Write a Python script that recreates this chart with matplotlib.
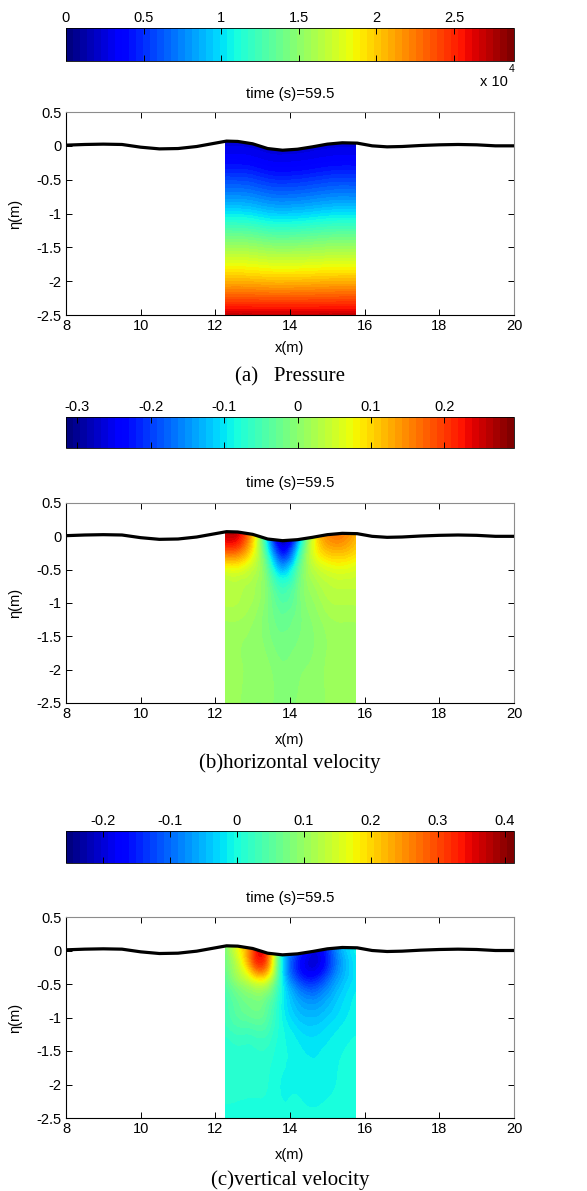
import numpy as np
import matplotlib
matplotlib.use('Agg')
import matplotlib.pyplot as plt
import matplotlib.tri as mtri
from matplotlib.colors import Normalize
from matplotlib.cm import ScalarMappable

plt.rcParams['font.family'] = ['Liberation Sans', 'DejaVu Sans']
plt.rcParams['axes.unicode_minus'] = False

# ---------------- data ----------------
# free-surface elevation (m) along the flume
eta_x = [8, 8.5, 9, 9.5, 10, 10.5, 11, 11.5, 12, 12.3, 12.6, 13.0, 13.4, 13.8,
         14.2, 14.6, 15.0, 15.4, 15.8, 16.2, 16.6, 17.0, 17.5, 18, 18.5, 19, 19.5, 20]
eta = [0.01, 0.02, 0.025, 0.02, -0.02, -0.045, -0.04, -0.01, 0.04, 0.07, 0.065,
       0.03, -0.04, -0.065, -0.05, -0.015, 0.025, 0.045, 0.04, 0.0, -0.015, -0.01,
       0.005, 0.015, 0.02, 0.015, 0.0, 0.0]

# fraction of water column below the surface (0 = surface, 1 = bottom at -2.5 m)
s_levels = [0, 0.1, 0.2, 0.35, 0.5, 0.75, 1.0]

# (a) pressure (Pa) vs depth fraction, uniform in x
p_x = [12.27, 12.6, 13.0, 13.4, 13.8, 14.2, 14.6, 15.0, 15.4, 15.76]
p_profile = [2500, 3500, 5300, 8500, 12600, 19200, 26800]

# (b) horizontal velocity (m/s)
u_x = [12.27, 12.6, 13.0, 13.4, 13.8, 14.2, 14.6, 15.0, 15.4, 15.76]
u_vals = [
    [0.26, 0.25, 0.11, -0.12, -0.28, -0.16, 0.05, 0.15, 0.16, 0.12],
    [0.19, 0.18, 0.08, -0.07, -0.20, -0.09, 0.05, 0.11, 0.12, 0.10],
    [0.08, 0.08, 0.04, -0.03, -0.11, -0.04, 0.03, 0.06, 0.07, 0.06],
    [0.03, 0.03, 0.02, -0.01, -0.045, -0.02, 0.01, 0.03, 0.035, 0.035],
    [0.02, 0.02, 0.01, -0.01, -0.025, -0.015, 0.0, 0.015, 0.02, 0.02],
    [0.01, 0.01, 0.005, 0.0, -0.01, -0.005, 0.0, 0.01, 0.015, 0.015],
    [0.01, 0.01, 0.0, 0.0, -0.005, 0.0, 0.0, 0.01, 0.015, 0.015],
]

# (c) vertical velocity (m/s)
w_x = [12.27, 12.7, 13.0, 13.3, 13.6, 14.0, 14.4, 14.8, 15.2, 15.76]
w_vals = [
    [0.08, 0.19, 0.29, 0.33, 0.12, -0.09, -0.17, -0.18, -0.09, -0.01],
    [0.07, 0.16, 0.26, 0.27, 0.10, -0.10, -0.18, -0.18, -0.10, -0.02],
    [0.05, 0.11, 0.14, 0.13, 0.05, -0.06, -0.12, -0.12, -0.07, -0.02],
    [0.03, 0.06, 0.07, 0.06, 0.02, -0.03, -0.055, -0.055, -0.035, -0.01],
    [0.02, 0.03, 0.03, 0.03, 0.01, -0.01, -0.025, -0.025, -0.015, -0.005],
    [0.01, 0.01, 0.01, 0.01, 0.0, -0.005, -0.01, -0.01, -0.005, 0.0],
    [0.0, 0.0, 0.0, 0.0, 0.0, 0.0, 0.0, 0.0, 0.0, 0.0],
]

# colour ranges and colorbar ticks
p_range = (0, 28860)
p_ticks = [0, 5000, 10000, 15000, 20000, 25000]
p_ticklabels = ['0', '0.5', '1', '1.5', '2', '2.5']
u_range = (-0.3156, 0.295)
u_ticks = [-0.3, -0.2, -0.1, 0, 0.1, 0.2]
u_ticklabels = ['-0.3', '-0.2', '-0.1', '0', '0.1', '0.2']
w_range = (-0.255, 0.414)
w_ticks = [-0.2, -0.1, 0, 0.1, 0.2, 0.3, 0.4]
w_ticklabels = ['-0.2', '-0.1', '0', '0.1', '0.2', '0.3', '0.4']

x_ticks = [8, 10, 12, 14, 16, 18, 20]
y_ticks = [0.5, 0, -0.5, -1, -1.5, -2, -2.5]
y_ticklabels = ['0.5', '0', '-0.5', '-1', '-1.5', '-2', '-2.5']
title_text = 'time (s)=59.5'
captions = ['(a)   Pressure', '(b)horizontal velocity', '(c)vertical velocity']

# ---------------- figure ----------------
W, H = 587, 1191
fig = plt.figure(figsize=(W / 100, H / 100), dpi=100)
jet64 = plt.get_cmap('jet', 64)
BOTTOM = -2.5


def rect(l, t, r, b):
    return [l / W, 1 - b / H, (r - l) / W, (b - t) / H]


def fx(px):
    return px / W


def fy(py):
    return 1 - py / H


def mesh_tri(xcols):
    xc = np.asarray(xcols, float)
    s = np.asarray(s_levels, float)
    top = np.interp(xc, eta_x, eta)
    X = np.tile(xc, (len(s), 1))
    Z = top[None, :] + s[:, None] * (BOTTOM - top[None, :])
    ny, nx = X.shape
    tris = []
    for j in range(ny - 1):
        for i in range(nx - 1):
            a = j * nx + i
            b = a + 1
            c = a + nx
            d = c + 1
            tris.append([a, b, d])
            tris.append([a, d, c])
    return mtri.Triangulation(X.ravel(), Z.ravel(), np.array(tris))


panels = [
    dict(xc=p_x, C=np.tile(np.asarray(p_profile, float)[:, None], (1, len(p_x))),
         rng=p_range, ticks=p_ticks, tl=p_ticklabels,
         cb=(66, 28, 514, 61), ax=(66, 112, 514, 315), title=94,
         xlab=348, cap=377),
    dict(xc=u_x, C=np.asarray(u_vals, float), rng=u_range, ticks=u_ticks,
         tl=u_ticklabels, cb=(66, 417, 514, 448), ax=(66, 503, 514, 703),
         title=483, xlab=740, cap=763),
    dict(xc=w_x, C=np.asarray(w_vals, float), rng=w_range, ticks=w_ticks,
         tl=w_ticklabels, cb=(66, 831, 514, 863), ax=(66, 917, 514, 1118),
         title=898, xlab=1155, cap=1180),
]

for i, P in enumerate(panels):
    vmin, vmax = P['rng']
    # colorbar
    cax = fig.add_axes(rect(*P['cb']))
    sm = ScalarMappable(norm=Normalize(vmin, vmax), cmap=jet64)
    cbar = fig.colorbar(sm, cax=cax, orientation='horizontal')
    cbar.set_ticks(P['ticks'])
    cbar.set_ticklabels(P['tl'])
    cax.tick_params(axis='x', direction='in', top=True, bottom=True,
                    labeltop=True, labelbottom=False, length=4, width=0.7,
                    labelsize=10.5, pad=2, colors='black')
    cbar.outline.set_linewidth(0.6)

    # main axes
    ax = fig.add_axes(rect(*P['ax']))
    tri = mesh_tri(P['xc'])
    refiner = mtri.UniformTriRefiner(tri)
    tri_f, c_f = refiner.refine_field(P['C'].ravel(), subdiv=3)
    levels = np.linspace(vmin, vmax, 65)
    ax.tricontourf(tri_f, c_f, levels=levels, cmap=jet64, extend='both',
                   antialiased=False)
    ax.plot(eta_x, eta, color='black', lw=2.3, zorder=5, solid_capstyle='butt')
    ax.set_xlim(8, 20)
    ax.set_ylim(-2.5, 0.5)
    ax.set_xticks(x_ticks)
    ax.set_xticklabels([str(t) for t in x_ticks])
    ax.set_yticks(y_ticks)
    ax.set_yticklabels(y_ticklabels)
    ax.tick_params(direction='in', top=True, right=True, length=4, width=0.7,
                   labelsize=10.5, pad=3)
    for side in ('top', 'right'):
        ax.spines[side].set_color('#8c8c8c')
    for sp in ax.spines.values():
        sp.set_linewidth(0.8)

    axl, axt, axr, axb = P['ax']
    cx = (axl + axr) / 2
    fig.text(fx(cx), fy(P['title']), title_text, ha='center', va='center',
             fontsize=10.8)
    fig.text(fx(cx), fy(P['xlab']), 'x(m)', ha='center', va='center',
             fontsize=10.5)
    fig.text(fx(15), fy((axt + axb) / 2), 'η(m)', ha='center', va='center',
             rotation=90, fontsize=10.5)
    fig.text(fx(cx), fy(P['cap']), captions[i], ha='center', va='center',
             fontsize=15, family=['Liberation Serif', 'DejaVu Serif'])

# exponent label of the pressure colorbar
fig.text(fx(508), fy(82), 'x 10', ha='right', va='center', fontsize=10.5)
fig.text(fx(509), fy(69), '4', ha='left', va='center', fontsize=7.5)

fig.savefig('out.png', dpi=100)
